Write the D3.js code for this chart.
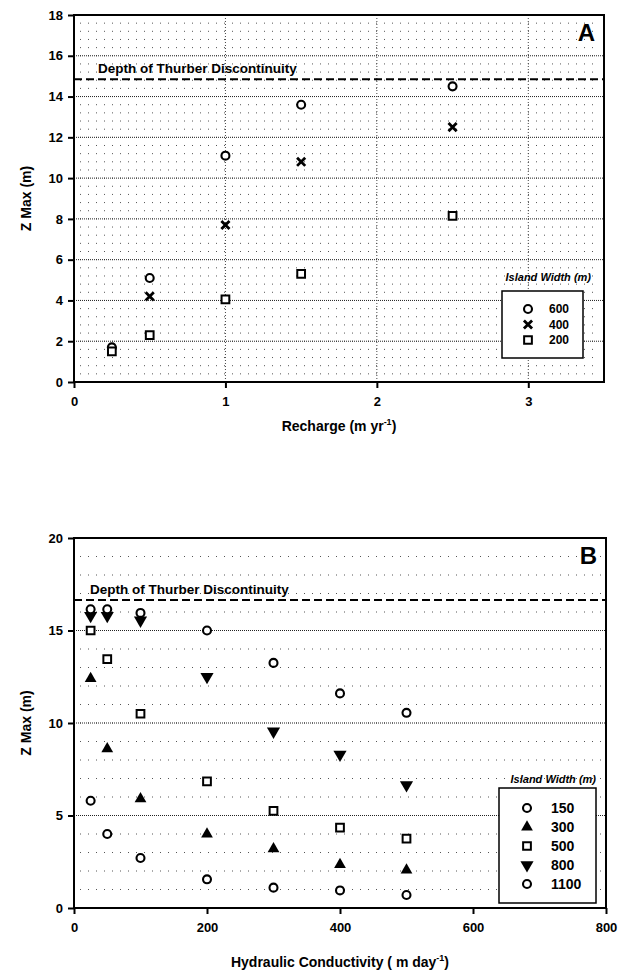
<!DOCTYPE html>
<html>
<head>
<meta charset="utf-8">
<script src="https://cdn.jsdelivr.net/npm/d3@7"></script>
<style>
  body { margin: 0; background: #fff; }
  svg { display: block; font-family: "Liberation Sans", Arial, sans-serif; }
</style>
</head>
<body>
<svg id="chart" width="621" height="971"></svg>
<script>
// panel A: recharge vs Z max
const rechargeX = [0.25, 0.5, 1, 1.5, 2.5];
const zA600 = [1.7, 5.1, 11.1, 13.6, 14.5];
const zA400 = [null, 4.2, 7.7, 10.8, 12.5];
const zA200 = [1.5, 2.3, 4.05, 5.3, 8.15];
const widthsA = ['600', '400', '200'];
const thurberA = 14.85;
const xTicksA = [0, 1, 2, 3];
const yTicksA = [0, 2, 4, 6, 8, 10, 12, 14, 16, 18];

// panel B: hydraulic conductivity vs Z max
const conductivityX = [25, 50, 100, 200, 300, 400, 500];
const zB150 = [5.8, 4.0, 2.7, 1.55, 1.1, 0.95, 0.7];
const zB300 = [12.4, 8.6, 5.9, 4.0, 3.2, 2.35, 2.05];
const zB500 = [15.0, 13.45, 10.5, 6.85, 5.25, 4.35, 3.75];
const zB800 = [15.8, 15.8, 15.55, 12.5, 9.55, 8.3, 6.65];
const zB1100 = [16.15, 16.15, 15.95, 15.0, 13.25, 11.6, 10.55];
const widthsB = ['150', '300', '500', '800', '1100'];
const thurberB = 16.65;
const xTicksB = [0, 200, 400, 600, 800];
const yTicksB = [0, 5, 10, 15, 20];

const svg = d3.select('#chart');

const symCircle = { type: d3.symbolCircle, size: 50, fill: '#fff', stroke: true, sw: 2.1 };
const symTimes = { type: d3.symbolTimes, size: 45, fill: 'none', stroke: true, sw: 2.8 };
const symSquare = { type: d3.symbolSquare, size: 60, fill: '#fff', stroke: true, sw: 2 };
const symUp = { type: d3.symbolTriangle, size: 60, fill: '#000', stroke: false };
const symDown = { type: d3.symbolTriangle, size: 75, fill: '#000', stroke: false, rot: 180 };

function drawSymbol(g, sym, x, y) {
  g.append('path')
    .attr('d', d3.symbol().type(sym.type).size(sym.size)())
    .attr('transform', `translate(${x},${y})${sym.rot ? ` rotate(${sym.rot})` : ''}`)
    .attr('fill', sym.fill)
    .attr('stroke', sym.stroke ? '#000' : 'none')
    .attr('stroke-width', sym.sw || 1.8);
}

function drawPanel(cfg) {
  const { left, top, right, bottom } = cfg;
  const g = svg.append('g');
  const x = d3.scaleLinear().domain(cfg.xDomain).range([left, right]);
  const y = d3.scaleLinear().domain(cfg.yDomain).range([bottom, top]);

  // minor dotted grid
  g.append('g').selectAll('line')
    .data(d3.range(cfg.yDomain[0], cfg.yDomain[1] + 1e-9, cfg.minorStep))
    .join('line')
    .attr('x1', left + 6).attr('x2', right - 4)
    .attr('y1', d => y(d)).attr('y2', d => y(d))
    .attr('stroke', '#555').attr('stroke-width', 1)
    .attr('stroke-dasharray', '1,7');
  // major grid
  g.append('g').selectAll('line')
    .data(cfg.yTicks.slice(1, -1))
    .join('line')
    .attr('x1', left).attr('x2', right)
    .attr('y1', d => y(d)).attr('y2', d => y(d))
    .attr('stroke', '#222').attr('stroke-width', 1)
    .attr('stroke-dasharray', '1,1');
  if (cfg.vGrid) {
    g.append('g').selectAll('line')
      .data(cfg.xTicks.slice(1))
      .join('line')
      .attr('x1', d => x(d)).attr('x2', d => x(d))
      .attr('y1', top).attr('y2', bottom)
      .attr('stroke', '#444').attr('stroke-width', 1)
      .attr('stroke-dasharray', '1,2');
  }

  // Thurber discontinuity
  g.append('line')
    .attr('x1', left).attr('x2', right)
    .attr('y1', y(cfg.thurber)).attr('y2', y(cfg.thurber))
    .attr('stroke', '#000').attr('stroke-width', 2)
    .attr('stroke-dasharray', '8,4');
  g.append('text')
    .attr('x', cfg.thurberX).attr('y', y(cfg.thurber) - 6)
    .attr('font-size', 13.5).attr('font-weight', 'bold')
    .text('Depth of Thurber Discontinuity');

  // frame
  g.append('rect')
    .attr('x', left).attr('y', top)
    .attr('width', right - left).attr('height', bottom - top)
    .attr('fill', 'none').attr('stroke', '#000').attr('stroke-width', 2);

  // axes
  const ax = g.append('g').attr('transform', `translate(0,${bottom})`)
    .call(d3.axisBottom(x).tickValues(cfg.xTicks).tickFormat(d3.format('d'))
      .tickSize(6).tickPadding(9));
  const ay = g.append('g').attr('transform', `translate(${left},0)`)
    .call(d3.axisLeft(y).tickValues(cfg.yTicks).tickFormat(d3.format('d'))
      .tickSize(6).tickPadding(5));
  [ax, ay].forEach(a => {
    a.select('.domain').remove();
    a.selectAll('line').attr('stroke', '#000').attr('stroke-width', 2);
    a.selectAll('text').attr('font-size', 13).attr('font-weight', 'bold')
      .attr('font-family', '"Liberation Sans", Arial, sans-serif').attr('fill', '#000');
  });

  // series
  cfg.series.forEach(s => {
    s.values.forEach((v, i) => {
      if (v == null) return;
      drawSymbol(g, s.sym, x(cfg.xValues[i]), y(v));
    });
  });

  // panel letter
  g.append('text')
    .attr('x', right - 9).attr('y', top + 26)
    .attr('text-anchor', 'end').attr('font-size', 24).attr('font-weight', 'bold')
    .text(cfg.letter);

  // axis titles
  const xt = g.append('text')
    .attr('x', (left + right) / 2).attr('y', cfg.xTitleY)
    .attr('text-anchor', 'middle').attr('font-size', 14).attr('font-weight', 'bold');
  xt.append('tspan').text(cfg.xTitle[0]);
  xt.append('tspan').attr('font-size', 9).attr('dy', -6).text(cfg.xTitle[1]);
  xt.append('tspan').attr('dy', 6).text(cfg.xTitle[2]);

  g.append('text')
    .attr('transform', `translate(31,${(top + bottom) / 2}) rotate(-90)`)
    .attr('text-anchor', 'middle').attr('font-size', 14).attr('font-weight', 'bold')
    .text('Z Max (m)');

  // legend
  const L = cfg.legend;
  g.append('text')
    .attr('x', L.titleX).attr('y', L.titleY)
    .attr('text-anchor', 'end').attr('font-size', 11)
    .attr('font-weight', 'bold').attr('font-style', 'italic')
    .text('Island Width (m)');
  g.append('rect')
    .attr('x', L.x).attr('y', L.y).attr('width', L.w).attr('height', L.h)
    .attr('fill', '#fff').attr('stroke', '#000').attr('stroke-width', 1.5);
  cfg.series.forEach((s, i) => {
    const cy = L.rowY + i * L.rowH;
    drawSymbol(g, s.sym, L.symX, cy);
    g.append('text')
      .attr('x', L.labelX).attr('y', cy).attr('dy', '0.36em')
      .attr('font-size', L.fontSize).attr('font-weight', 'bold')
      .text(s.name);
  });
}

drawPanel({
  left: 74, top: 15, right: 604, bottom: 382,
  xDomain: [0, 3.5], yDomain: [0, 18],
  xTicks: xTicksA, yTicks: yTicksA, minorStep: 0.4, vGrid: true,
  thurber: thurberA, thurberX: 98,
  xValues: rechargeX,
  series: [
    { name: widthsA[0], values: zA600, sym: symCircle },
    { name: widthsA[1], values: zA400, sym: symTimes },
    { name: widthsA[2], values: zA200, sym: symSquare }
  ],
  letter: 'A',
  xTitle: ['Recharge (m yr', '-1', ')'], xTitleY: 431,
  legend: { x: 502, y: 291, w: 81, h: 67, titleX: 591, titleY: 281,
            symX: 528, labelX: 549, rowY: 309, rowH: 15.5, fontSize: 12 }
});

drawPanel({
  left: 74, top: 538, right: 606, bottom: 908,
  xDomain: [0, 800], yDomain: [0, 20],
  xTicks: xTicksB, yTicks: yTicksB, minorStep: 1, vGrid: false,
  thurber: thurberB, thurberX: 90,
  xValues: conductivityX,
  series: [
    { name: widthsB[0], values: zB150, sym: symCircle },
    { name: widthsB[1], values: zB300, sym: symUp },
    { name: widthsB[2], values: zB500, sym: symSquare },
    { name: widthsB[3], values: zB800, sym: symDown },
    { name: widthsB[4], values: zB1100, sym: symCircle }
  ],
  letter: 'B',
  xTitle: ['Hydraulic Conductivity ( m day', '-1', ')'], xTitleY: 967,
  legend: { x: 499, y: 788, w: 97, h: 115, titleX: 596, titleY: 783,
            symX: 527, labelX: 551, rowY: 808, rowH: 19, fontSize: 14 }
});
</script>
</body>
</html>
